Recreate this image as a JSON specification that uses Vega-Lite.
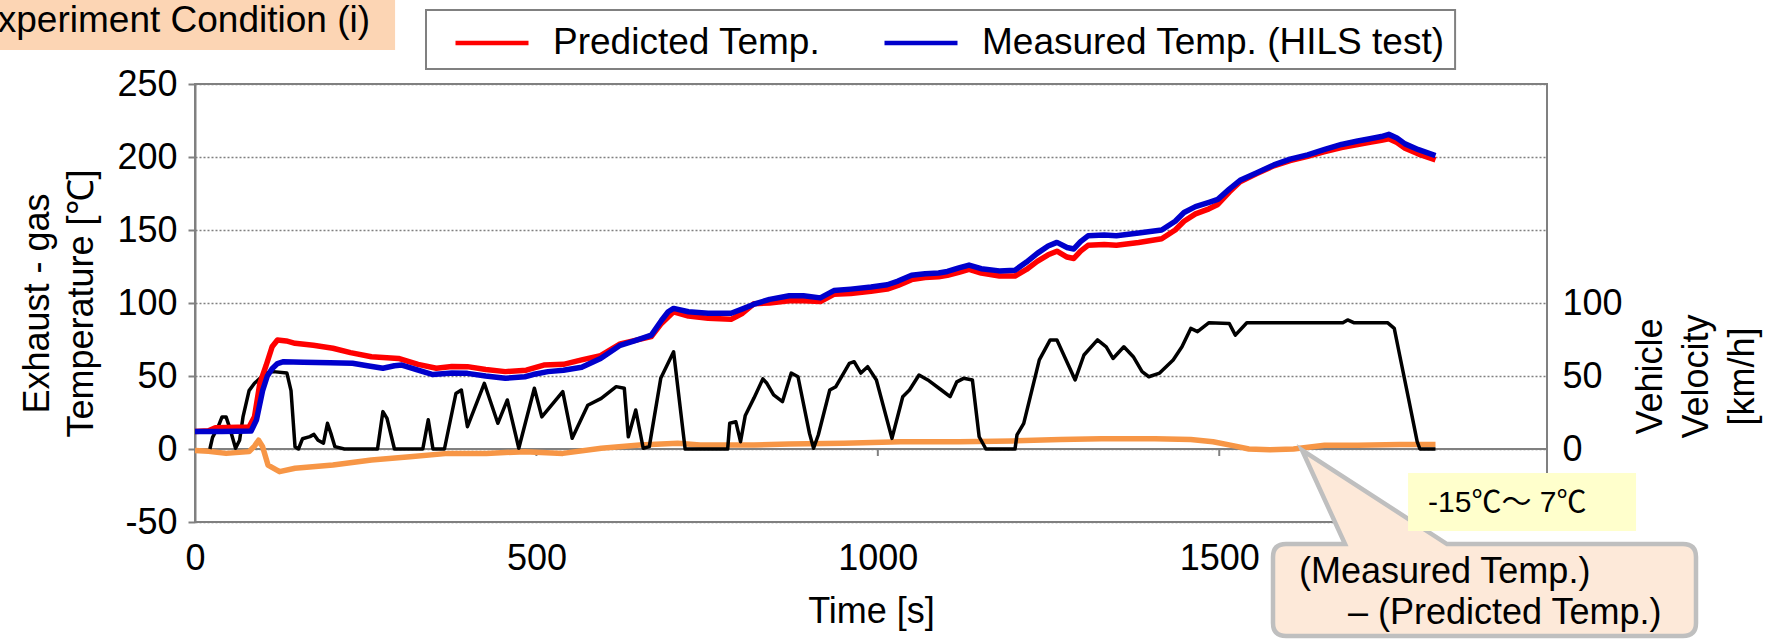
{
  "$schema": "https://vega.github.io/schema/vega-lite/v6.json",
  "width": 1352,
  "height": 438,
  "autosize": {"type": "none"},
  "padding": {"left": 195, "top": 84, "right": 221, "bottom": 119},
  "background": "white",
  "config": {
    "font": "Liberation Sans",
    "view": {"stroke": "#808080", "strokeWidth": 2},
    "axis": {
      "labelFont": "Liberation Sans", "titleFont": "Liberation Sans",
      "labelColor": "black", "titleColor": "black", "titleFontWeight": "normal",
      "labelFontSize": 36, "titleFontSize": 36,
      "domainColor": "#808080", "tickColor": "#808080", "domainWidth": 2, "tickWidth": 2
    }
  },
  "datasets": {
    "xticks": [{"t":0},{"t":500},{"t":1000},{"t":1500}],
    "meas": [{"t":0,"v":12},{"t":39.6,"v":12},{"t":82.2,"v":12.3},{"t":90.1,"v":20},{"t":99,"v":40},{"t":105.9,"v":50},{"t":112.9,"v":55},{"t":120.8,"v":58.5},{"t":129.7,"v":59.8},{"t":158.4,"v":59.5},{"t":198,"v":59},{"t":230.7,"v":58.7},{"t":252.5,"v":57},{"t":275.2,"v":55.3},{"t":292.1,"v":57},{"t":302.9,"v":57.5},{"t":326.7,"v":54},{"t":348.5,"v":51},{"t":376.2,"v":52},{"t":399,"v":51.8},{"t":425.7,"v":50},{"t":454.4,"v":48.4},{"t":483.1,"v":49.5},{"t":495,"v":51},{"t":516.8,"v":53},{"t":539.6,"v":54},{"t":566.3,"v":56},{"t":594,"v":62},{"t":622.7,"v":71},{"t":643.5,"v":74},{"t":668.3,"v":78},{"t":683.1,"v":88},{"t":693,"v":94},{"t":700.9,"v":96.3},{"t":722.7,"v":94},{"t":751.4,"v":93},{"t":785.1,"v":93},{"t":801.9,"v":96},{"t":817.7,"v":99},{"t":841.5,"v":102.5},{"t":870.2,"v":105},{"t":891,"v":105},{"t":915.8,"v":103.5},{"t":935.6,"v":108.5},{"t":960.3,"v":109.5},{"t":990,"v":111},{"t":1013.8,"v":112.5},{"t":1029.6,"v":115},{"t":1049.4,"v":119},{"t":1069.2,"v":120},{"t":1089,"v":120.5},{"t":1101.9,"v":121.6},{"t":1118.7,"v":124},{"t":1133.6,"v":126},{"t":1151.4,"v":123.5},{"t":1178.1,"v":122},{"t":1200.9,"v":122.5},{"t":1217.7,"v":128},{"t":1233.5,"v":134},{"t":1249.4,"v":139},{"t":1262.3,"v":141.5},{"t":1277.1,"v":138},{"t":1287,"v":137},{"t":1296.9,"v":142},{"t":1307.8,"v":146},{"t":1331.6,"v":146.5},{"t":1349.4,"v":146},{"t":1382,"v":148},{"t":1415.7,"v":150},{"t":1435.5,"v":156},{"t":1448.4,"v":162},{"t":1465.2,"v":166},{"t":1485,"v":169},{"t":1497.9,"v":171},{"t":1514.7,"v":178},{"t":1530.5,"v":184},{"t":1554.3,"v":189},{"t":1580,"v":194.6},{"t":1603.8,"v":198.5},{"t":1629.5,"v":201.5},{"t":1653.3,"v":205},{"t":1679,"v":208.6},{"t":1702.8,"v":211},{"t":1720.6,"v":212.5},{"t":1737.5,"v":214},{"t":1748.3,"v":215.5},{"t":1760.2,"v":213},{"t":1772.1,"v":209},{"t":1791.9,"v":205},{"t":1816.7,"v":201}],
    "pred": [{"t":0,"v":12},{"t":19.8,"v":12.5},{"t":29.7,"v":14.5},{"t":79.2,"v":15},{"t":87.1,"v":22},{"t":95,"v":45},{"t":104,"v":57},{"t":112.9,"v":70},{"t":120.8,"v":74.6},{"t":133.7,"v":74},{"t":146.5,"v":72.4},{"t":173.3,"v":71},{"t":202,"v":69},{"t":227.7,"v":66},{"t":258.4,"v":63.2},{"t":298,"v":62},{"t":326.7,"v":58},{"t":353.4,"v":55.3},{"t":376.2,"v":56.5},{"t":399,"v":56.4},{"t":425.7,"v":54.5},{"t":454.4,"v":53},{"t":485.1,"v":54},{"t":510.8,"v":57.5},{"t":539.6,"v":58},{"t":566.3,"v":61},{"t":594,"v":64},{"t":622.7,"v":72},{"t":668.3,"v":77},{"t":683.1,"v":86},{"t":700.9,"v":94},{"t":722.7,"v":91},{"t":751.4,"v":89.5},{"t":785.1,"v":88.8},{"t":801.9,"v":93},{"t":818.7,"v":99.5},{"t":841.5,"v":100},{"t":870.2,"v":101.5},{"t":891,"v":101.5},{"t":915.8,"v":101},{"t":935.6,"v":106},{"t":960.3,"v":106.5},{"t":990,"v":108},{"t":1013.8,"v":109.5},{"t":1029.6,"v":112},{"t":1049.4,"v":116},{"t":1069.2,"v":117.5},{"t":1089,"v":118},{"t":1101.9,"v":119},{"t":1118.7,"v":121},{"t":1133.6,"v":123},{"t":1151.4,"v":120.5},{"t":1178.1,"v":118.5},{"t":1200.9,"v":118.5},{"t":1217.7,"v":123},{"t":1233.5,"v":128.5},{"t":1249.4,"v":133},{"t":1262.3,"v":135.5},{"t":1277.1,"v":131.5},{"t":1287,"v":130.5},{"t":1296.9,"v":135.5},{"t":1307.8,"v":139.5},{"t":1331.6,"v":140},{"t":1349.4,"v":139.5},{"t":1382,"v":141.5},{"t":1415.7,"v":144},{"t":1435.5,"v":150},{"t":1448.4,"v":156},{"t":1465.2,"v":161},{"t":1485,"v":164.5},{"t":1497.9,"v":167.5},{"t":1514.7,"v":176},{"t":1530.5,"v":183},{"t":1554.3,"v":188.5},{"t":1580,"v":194},{"t":1603.8,"v":197.5},{"t":1629.5,"v":200.5},{"t":1653.3,"v":203.5},{"t":1679,"v":206.5},{"t":1702.8,"v":208.5},{"t":1720.6,"v":210},{"t":1737.5,"v":211.5},{"t":1748.3,"v":212.5},{"t":1760.2,"v":210},{"t":1772.1,"v":206},{"t":1791.9,"v":202},{"t":1816.7,"v":198}],
    "diff": [{"t":0,"v":-1},{"t":19.8,"v":-1.5},{"t":45.5,"v":-3},{"t":79.2,"v":-1.8},{"t":87.1,"v":2},{"t":93.1,"v":6},{"t":99,"v":1.6},{"t":106.9,"v":-11},{"t":123.8,"v":-15.5},{"t":146.5,"v":-13.2},{"t":202,"v":-11},{"t":258.4,"v":-7.5},{"t":314.8,"v":-5.3},{"t":370.3,"v":-3},{"t":426.7,"v":-3},{"t":483.1,"v":-1.8},{"t":538.6,"v":-3},{"t":595,"v":0.5},{"t":651.4,"v":2.7},{"t":706.9,"v":3.9},{"t":739.5,"v":2.7},{"t":818.7,"v":2.7},{"t":870.2,"v":3.5},{"t":950.4,"v":4},{"t":1033.6,"v":5},{"t":1118.7,"v":5},{"t":1196.9,"v":5.5},{"t":1267.2,"v":6.5},{"t":1327.6,"v":7},{"t":1405.8,"v":7},{"t":1458.3,"v":6.5},{"t":1490.9,"v":5},{"t":1523.6,"v":2},{"t":1543.4,"v":0},{"t":1574.1,"v":-0.5},{"t":1608.8,"v":0},{"t":1654.3,"v":2.5},{"t":1702.8,"v":2.5},{"t":1764.2,"v":3},{"t":1816.7,"v":3}],
    "vel": [{"t":21.8,"v":0},{"t":25.7,"v":8},{"t":33.7,"v":15},{"t":39.6,"v":22},{"t":45.5,"v":22},{"t":50.5,"v":15},{"t":59.4,"v":0.5},{"t":65.3,"v":6},{"t":70.3,"v":22},{"t":79.2,"v":40},{"t":87.1,"v":45},{"t":93.1,"v":47.5},{"t":104,"v":52},{"t":114.8,"v":53},{"t":134.6,"v":52},{"t":140.6,"v":40},{"t":146.5,"v":1.5},{"t":151.5,"v":0},{"t":157.4,"v":7},{"t":168.3,"v":8.5},{"t":174.2,"v":10},{"t":180.2,"v":6},{"t":188.1,"v":4},{"t":194,"v":17.6},{"t":199,"v":10.7},{"t":204.9,"v":1.6},{"t":218.8,"v":0},{"t":267.3,"v":0},{"t":275.2,"v":25.6},{"t":281.2,"v":21},{"t":292.1,"v":0},{"t":333.6,"v":0},{"t":341.6,"v":20},{"t":348.5,"v":0},{"t":365.3,"v":0},{"t":382.1,"v":38},{"t":390.1,"v":40.4},{"t":399,"v":15.3},{"t":423.7,"v":45},{"t":443.5,"v":17.6},{"t":457.4,"v":33.6},{"t":474.2,"v":0.5},{"t":497,"v":41.6},{"t":507.9,"v":22},{"t":538.6,"v":39.3},{"t":552.4,"v":7.3},{"t":575.2,"v":30},{"t":595,"v":34.7},{"t":616.8,"v":42.7},{"t":628.7,"v":41.6},{"t":634.6,"v":8.4},{"t":645.5,"v":26.7},{"t":656.4,"v":0.5},{"t":665.3,"v":1.6},{"t":682.1,"v":48.4},{"t":700.9,"v":66.6},{"t":717.8,"v":0},{"t":780.1,"v":0},{"t":783.1,"v":17.6},{"t":792,"v":18.7},{"t":798.9,"v":5},{"t":805.9,"v":23},{"t":818.7,"v":35},{"t":831.6,"v":48},{"t":837.5,"v":45},{"t":847.4,"v":37},{"t":860.3,"v":32.4},{"t":873.2,"v":52},{"t":883.1,"v":49.5},{"t":899.9,"v":10.7},{"t":905.9,"v":0.5},{"t":912.8,"v":9.6},{"t":929.6,"v":40.4},{"t":938.5,"v":42.7},{"t":958.3,"v":58.7},{"t":965.3,"v":59.8},{"t":975.2,"v":52},{"t":985.1,"v":56.4},{"t":997.9,"v":47.3},{"t":1020.7,"v":7.3},{"t":1036.5,"v":35.8},{"t":1046.4,"v":40.4},{"t":1060.3,"v":50.7},{"t":1073.2,"v":47.3},{"t":1093,"v":40.4},{"t":1105.8,"v":35.8},{"t":1115.7,"v":46},{"t":1125.6,"v":48.4},{"t":1138.5,"v":47.3},{"t":1148.4,"v":8.4},{"t":1158.3,"v":0},{"t":1200.9,"v":0},{"t":1203.8,"v":9.6},{"t":1213.7,"v":17.6},{"t":1236.5,"v":61},{"t":1252.4,"v":74.7},{"t":1262.3,"v":74.7},{"t":1289,"v":47.3},{"t":1301.9,"v":64.4},{"t":1321.7,"v":74.7},{"t":1334.5,"v":70},{"t":1344.4,"v":62},{"t":1360.3,"v":70},{"t":1374.1,"v":63.2},{"t":1387,"v":53},{"t":1396.9,"v":49.5},{"t":1412.7,"v":52},{"t":1432.5,"v":61},{"t":1445.4,"v":70},{"t":1458.3,"v":82.6},{"t":1468.2,"v":80.4},{"t":1485,"v":86.5},{"t":1514.7,"v":86},{"t":1523.6,"v":78},{"t":1540.4,"v":86.5},{"t":1681,"v":86.5},{"t":1688,"v":88.4},{"t":1696.9,"v":86.5},{"t":1746.4,"v":86.5},{"t":1756.3,"v":82.6},{"t":1764.2,"v":64.4},{"t":1777,"v":35},{"t":1789.9,"v":5},{"t":1793.9,"v":0},{"t":1816.7,"v":0}],
    "one": [{}]
  },
  "layer": [
    {
      "data": {"name": "xticks"},
      "mark": {"type": "rule", "color": "#808080", "strokeWidth": 2},
      "encoding": {
        "x": {"field": "t", "type": "quantitative", "scale": {"domain": [0, 1980], "nice": false},
          "axis": {"orient": "bottom", "title": "Time [s]", "values": [0, 500, 1000, 1500], "format": "d",
            "domain": false, "ticks": false, "tickSize": 0, "labelPadding": 19, "grid": false,
            "labelFlush": false, "labelOverlap": false,
            "titleY": 100, "titleBaseline": "alphabetic"}},
        "y": {"datum": 0, "type": "quantitative", "scale": {"domain": [-50, 250], "nice": false}, "axis": null},
        "y2": {"datum": -4.8}
      }
    },
    {
      "data": {"name": "one"},
      "mark": {"type": "rule", "color": "#808080", "strokeWidth": 2},
      "encoding": {
        "x": {"datum": 0, "type": "quantitative", "axis": null},
        "x2": {"datum": 1980},
        "y": {"datum": 0, "type": "quantitative", "axis": null}
      }
    },
    {
      "data": {"name": "one"},
      "mark": {"type": "rect", "fill": "white", "stroke": "#808080", "strokeWidth": 2},
      "encoding": {
        "x": {"datum": 338.3, "type": "quantitative", "axis": null},
        "x2": {"datum": 1845.4},
        "y": {"datum": 300.7, "type": "quantitative", "axis": null},
        "y2": {"datum": 260.3}
      }
    },
    {
      "data": {"name": "diff"},
      "mark": {"type": "line", "color": "#F79646", "strokeWidth": 5.5, "strokeJoin": "round"},
      "encoding": {
        "x": {"field": "t", "type": "quantitative", "axis": null},
        "y": {"field": "v", "type": "quantitative", "scale": {"domain": [-50, 250], "nice": false},
          "axis": {"orient": "left", "title": ["Exhaust - gas", "Temperature  [℃]"], "values": [-50, 0, 50, 100, 150, 200, 250],
            "labelExpr": "'' + datum.value",
            "tickSize": 7, "labelPadding": 11, "grid": true, "gridDash": [2, 2], "gridColor": "#808080", "gridWidth": 1.5,
            "titleAngle": 270, "titleX": -158, "titleY": 219, "titleBaseline": "middle", "titleAlign": "center", "titleLineHeight": 44}}
      }
    },
    {
      "data": {"name": "vel"},
      "mark": {"type": "line", "color": "#000000", "strokeWidth": 3.5, "strokeJoin": "round"},
      "encoding": {
        "x": {"field": "t", "type": "quantitative", "axis": null},
        "y": {"field": "v", "type": "quantitative", "scale": {"domain": [-50, 250], "nice": false},
          "axis": {"orient": "right", "title": ["Vehicle", "Velocity", "[km/h]"], "values": [0, 50, 100], "format": "d",
            "ticks": false, "tickSize": 0, "labelPadding": 15, "domain": false, "grid": false,
            "titleAngle": 270, "titleX": 103, "titleY": 292, "titleBaseline": "middle", "titleAlign": "center", "titleLineHeight": 46}}
      }
    },
    {
      "data": {"name": "pred"},
      "mark": {"type": "line", "strokeWidth": 5.5, "strokeJoin": "round"},
      "encoding": {
        "x": {"field": "t", "type": "quantitative", "axis": null},
        "y": {"field": "v", "type": "quantitative", "axis": null},
        "color": {"datum": "Predicted Temp.", "type": "nominal",
          "scale": {"domain": ["Predicted Temp.", "Measured Temp. (HILS test)"], "range": ["#FF0000", "#0000CC"]},
          "legend": {"orient": "none", "legendX": 258, "legendY": -80, "direction": "horizontal",
            "symbolType": "stroke", "symbolSize": 5329, "symbolStrokeWidth": 4.5,
            "labelFontSize": 37, "labelFont": "Liberation Sans", "labelColor": "black", "labelOffset": 22,
            "columnPadding": 54, "padding": 0, "title": null, "labelLimit": 1000}}
      }
    },
    {
      "data": {"name": "meas"},
      "mark": {"type": "line", "strokeWidth": 5.5, "strokeJoin": "round"},
      "encoding": {
        "x": {"field": "t", "type": "quantitative", "axis": null},
        "y": {"field": "v", "type": "quantitative", "axis": null},
        "color": {"datum": "Measured Temp. (HILS test)", "type": "nominal"}
      }
    },
    {
      "data": {"name": "one"},
      "mark": {"type": "rect", "fill": "#FCD5B4"},
      "encoding": {
        "x": {"datum": -297, "type": "quantitative", "axis": null},
        "x2": {"datum": 293},
        "y": {"datum": 310, "type": "quantitative", "axis": null},
        "y2": {"datum": 273.3}
      }
    },
    {
      "data": {"name": "one"},
      "mark": {"type": "text", "text": "Experiment Condition (i)", "align": "right", "baseline": "alphabetic", "fontSize": 37, "font": "Liberation Sans", "color": "black"},
      "encoding": {
        "x": {"datum": 256.3, "type": "quantitative", "axis": null},
        "y": {"datum": 285.8, "type": "quantitative", "axis": null}
      }
    },
    {
      "data": {"name": "one"},
      "mark": {"type": "point", "shape": "M43,94 L0,0 L145,94 L381,94 Q394,94 394,107 L394,173 Q394,186 381,186 L-16,186 Q-29,186 -29,173 L-29,107 Q-29,94 -16,94 Z",
        "size": 4, "filled": true, "fill": "#FDE9D9", "stroke": "#BFBFBF", "strokeWidth": 4.5, "opacity": 1, "fillOpacity": 1, "strokeOpacity": 1, "strokeJoin": "miter"},
      "encoding": {
        "x": {"datum": 1621.2, "type": "quantitative", "axis": null},
        "y": {"datum": -0.7, "type": "quantitative", "axis": null}
      }
    },
    {
      "data": {"name": "one"},
      "mark": {"type": "rect", "fill": "#FFFFCC"},
      "encoding": {
        "x": {"datum": 1776.5, "type": "quantitative", "axis": null},
        "x2": {"datum": 2110.4},
        "y": {"datum": -16.4, "type": "quantitative", "axis": null},
        "y2": {"datum": -56.2}
      }
    },
    {
      "data": {"name": "one"},
      "mark": {"type": "text", "text": "-15℃～ 7℃", "align": "left", "baseline": "middle", "fontSize": 30, "font": "Liberation Sans, Noto Sans CJK JP", "color": "black"},
      "encoding": {
        "x": {"datum": 1805.8, "type": "quantitative", "axis": null},
        "y": {"datum": -37, "type": "quantitative", "axis": null}
      }
    },
    {
      "data": {"name": "one"},
      "mark": {"type": "text", "text": "(Measured Temp.)", "align": "left", "baseline": "middle", "fontSize": 36, "font": "Liberation Sans", "color": "black"},
      "encoding": {
        "x": {"datum": 1616.7, "type": "quantitative", "axis": null},
        "y": {"datum": -84.2, "type": "quantitative", "axis": null}
      }
    },
    {
      "data": {"name": "one"},
      "mark": {"type": "text", "text": "– (Predicted Temp.)", "align": "left", "baseline": "middle", "fontSize": 36, "font": "Liberation Sans", "color": "black"},
      "encoding": {
        "x": {"datum": 1688.5, "type": "quantitative", "axis": null},
        "y": {"datum": -112.3, "type": "quantitative", "axis": null}
      }
    }
  ],
  "resolve": {"axis": {"x": "independent", "y": "independent"}}
}
